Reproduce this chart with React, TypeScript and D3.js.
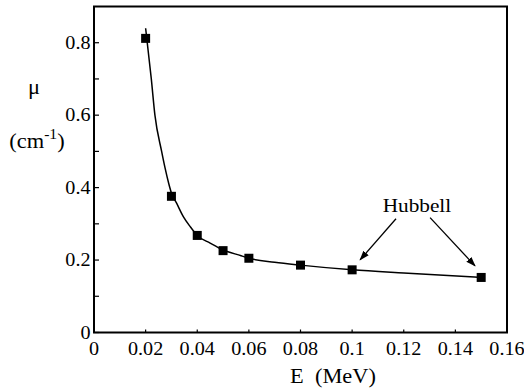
import React from "react";
import * as d3 from "d3";

// measured points (E in MeV, mu in cm^-1)
const energies = [0.02, 0.03, 0.04, 0.05, 0.06, 0.08, 0.1, 0.15];
const muValues = [0.812, 0.376, 0.268, 0.226, 0.205, 0.186, 0.173, 0.152];

// fitted curve
const fitEnergies = [0.02, 0.0222, 0.0236, 0.0262, 0.0275, 0.029, 0.03, 0.032, 0.0346, 0.0372, 0.04, 0.045, 0.05, 0.057, 0.06, 0.07, 0.08, 0.1, 0.12, 0.15];
const fitMu = [0.84, 0.7, 0.6, 0.5, 0.455, 0.41, 0.385, 0.357, 0.32, 0.293, 0.268, 0.247, 0.228, 0.212, 0.205, 0.194, 0.186, 0.173, 0.164, 0.152];

const xTicks = [0, 0.02, 0.04, 0.06, 0.08, 0.1, 0.12, 0.14, 0.16];
const yTicks = [0, 0.2, 0.4, 0.6, 0.8];
const yMinorTicks = [0.1, 0.3, 0.5, 0.7];

// annotation: label anchor and arrows [fromE, fromMu, toE, toMu]
const noteLabel = "Hubbell";
const noteAt = [0.1251, 0.333];
const noteArrows = [
  [0.117, 0.314, 0.1031, 0.2006],
  [0.1302, 0.317, 0.1476, 0.184],
];

const width = 524;
const height = 392;
const marginLeft = 94;
const marginRight = 17;
const marginTop = 6.5;
const marginBottom = 59.5;
const serif = '"Liberation Serif", serif';
const sx = 1.12; // the original type is a little wide

const x = d3.scaleLinear().domain([0, 0.16]).range([marginLeft, width - marginRight]);
const y = d3.scaleLinear().domain([0, 0.9]).range([height - marginBottom, marginTop]);

const line = d3
  .line<number>()
  .x((e) => x(e))
  .y((_, i) => y(fitMu[i]))
  .curve(d3.curveMonotoneX);

function Label({ tx, ty, size, anchor = "middle", dy, children }: any) {
  return (
    <text
      transform={`translate(${tx},${ty}) scale(${sx},1)`}
      textAnchor={anchor}
      dy={dy}
      fontSize={size}
      fontFamily={serif}
      style={{ fontFamily: serif, whiteSpace: "pre" }}
    >
      {children}
    </text>
  );
}

export default function App() {
  const s = 9;
  return (
    <div style={{ position: "absolute", left: 0, top: 0 }}>
      <svg width={width} height={height} style={{ display: "block" }}>
        <defs>
          <marker id="arrowhead" viewBox="0 0 10 10" refX={9} refY={5} markerWidth={10} markerHeight={10} markerUnits="userSpaceOnUse" orient="auto">
            <path d="M0,1.5L10,5L0,8.5Z" fill="#000" />
          </marker>
        </defs>

        {/* x ticks */}
        {xTicks.map((t) => (
          <line key={"xt" + t} x1={x(t)} x2={x(t)} y1={y(0)} y2={y(0) - 3} stroke="#000" strokeWidth={1.2} />
        ))}
        {xTicks.map((t) => (
          <Label key={"xl" + t} tx={x(t)} ty={y(0) + 22.5} size={18}>
            {String(t)}
          </Label>
        ))}

        {/* y ticks */}
        {[...yTicks, ...yMinorTicks].map((t) => (
          <line key={"yt" + t} x1={x(0)} x2={x(0) + 5} y1={y(t)} y2={y(t)} stroke="#000" strokeWidth={1.2} />
        ))}
        {yTicks.map((t) => (
          <Label key={"yl" + t} tx={x(0) - 3.5} ty={y(t)} dy="0.34em" anchor="end" size={18}>
            {String(t)}
          </Label>
        ))}

        {/* frame */}
        <rect x={x(0)} y={y(0.9)} width={x(0.16) - x(0)} height={y(0) - y(0.9)} fill="none" stroke="#000" strokeWidth={2} />

        {/* fitted curve */}
        <path d={line(fitEnergies) ?? ""} fill="none" stroke="#000" strokeWidth={1.5} />

        {/* markers */}
        {energies.map((e, i) => (
          <rect key={"m" + e} x={x(e) - s / 2} y={y(muValues[i]) - s / 2} width={s} height={s} fill="#000" />
        ))}

        {/* annotation */}
        <Label tx={x(noteAt[0])} ty={y(noteAt[1])} size={19}>
          {noteLabel}
        </Label>
        {noteArrows.map((a, i) => (
          <line key={"a" + i} x1={x(a[0])} y1={y(a[1])} x2={x(a[2])} y2={y(a[3])} stroke="#000" strokeWidth={1.3} markerEnd="url(#arrowhead)" />
        ))}

        {/* axis titles */}
        <Label tx={333} ty={383} size={20}>
          {"E  (MeV)"}
        </Label>
        <Label tx={34} ty={94} size={20}>
          μ
        </Label>
        <Label tx={37} ty={148} size={20}>
          <tspan>(cm</tspan>
          <tspan fontSize={14} dy={-9}>-1</tspan>
          <tspan dy={9}>)</tspan>
        </Label>
      </svg>
    </div>
  );
}
